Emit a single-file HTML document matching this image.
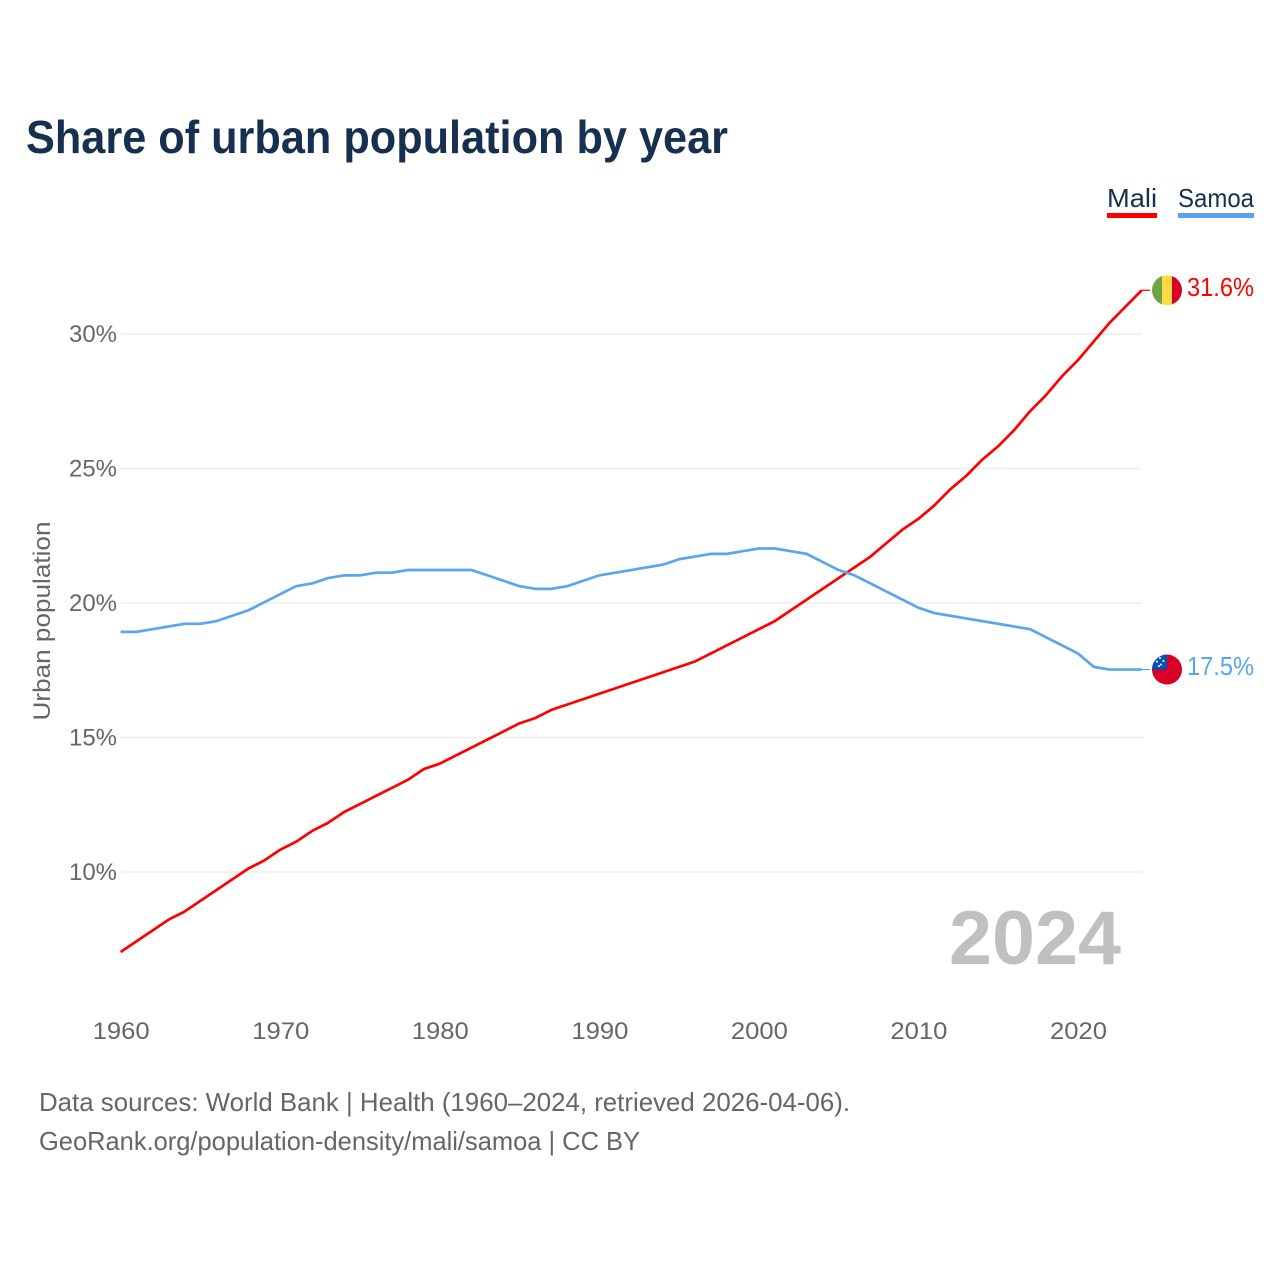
<!DOCTYPE html>
<html lang="en">
<head>
<meta charset="utf-8">
<title>Share of urban population by year</title>
<style>
html,body{margin:0;padding:0;background:#fff;width:1280px;height:1280px;overflow:hidden}
svg{display:block}
text{font-family:"Liberation Sans",sans-serif}
</style>
</head>
<body>
<svg id="chart" width="1280" height="1280" viewBox="0 0 1280 1280" xmlns="http://www.w3.org/2000/svg">
  <defs>
    <clipPath id="mali-clip"><circle id="mali-clip-circle" cx="1167" cy="290" r="15"/></clipPath>
    <clipPath id="samoa-clip"><circle id="samoa-clip-circle" cx="1167" cy="670" r="15"/></clipPath>
  </defs>
  <text x="26" y="153" font-size="46" font-weight="700" fill="#17304f" textLength="702" lengthAdjust="spacingAndGlyphs">Share of urban population by year</text>

  <g>
    <g>
      <text x="1107" y="207" font-size="26" fill="#17304f" textLength="50" lengthAdjust="spacingAndGlyphs">Mali</text>
      <rect x="1107" y="213" width="50" height="5" fill="#ff0000"/>
    </g>
    <g>
      <text x="1178" y="207" font-size="26" fill="#17304f" textLength="76" lengthAdjust="spacingAndGlyphs">Samoa</text>
      <rect x="1178" y="213" width="76" height="5" fill="#5ba5ee"/>
    </g>
  </g>

  <g id="grid"></g>
  <g id="y-ticks"></g>
  <g id="x-ticks"></g>
  <text transform="translate(50,621) rotate(-90)" text-anchor="middle" font-size="24" fill="#666666" textLength="199" lengthAdjust="spacingAndGlyphs">Urban population</text>

  <text x="949" y="964" font-size="76" font-weight="700" fill="#c0c0c0" textLength="172" lengthAdjust="spacingAndGlyphs">2024</text>

  <g id="series"></g>

  <g id="flag-mali" clip-path="url(#mali-clip)"></g>
  <g id="flag-samoa" clip-path="url(#samoa-clip)"></g>
  <g id="end-labels"></g>

  <text x="39" y="1111" font-size="26" fill="#666666" textLength="811" lengthAdjust="spacingAndGlyphs">Data sources: World Bank | Health (1960–2024, retrieved 2026-04-06).</text>
  <text x="39" y="1150" font-size="26" fill="#666666" textLength="601" lengthAdjust="spacingAndGlyphs">GeoRank.org/population-density/mali/samoa | CC BY</text>
</svg>
<script>
const firstYear = 1960;
const maliValues = [7.0,7.4,7.8,8.2,8.5,8.9,9.3,9.7,10.1,10.4,10.8,11.1,11.5,11.8,12.2,12.5,12.8,13.1,13.4,13.8,14.0,14.3,14.6,14.9,15.2,15.5,15.7,16.0,16.2,16.4,16.6,16.8,17.0,17.2,17.4,17.6,17.8,18.1,18.4,18.7,19.0,19.3,19.7,20.1,20.5,20.9,21.3,21.7,22.2,22.7,23.1,23.6,24.2,24.7,25.3,25.8,26.4,27.1,27.7,28.4,29.0,29.7,30.4,31.0,31.6];
const samoaValues = [18.9,18.9,19.0,19.1,19.2,19.2,19.3,19.5,19.7,20.0,20.3,20.6,20.7,20.9,21.0,21.0,21.1,21.1,21.2,21.2,21.2,21.2,21.2,21.0,20.8,20.6,20.5,20.5,20.6,20.8,21.0,21.1,21.2,21.3,21.4,21.6,21.7,21.8,21.8,21.9,22.0,22.0,21.9,21.8,21.5,21.2,21.0,20.7,20.4,20.1,19.8,19.6,19.5,19.4,19.3,19.2,19.1,19.0,18.7,18.4,18.1,17.6,17.5,17.5,17.5];
const yTickValues = [10,15,20,25,30];
const xTickYears = [1960,1970,1980,1990,2000,2010,2020];

const NS = 'http://www.w3.org/2000/svg';
function xScale(year){ return 120.6 + (year - 1960) * 15.955; }
function yScale(v){ return 872 - (v - 10) * 26.9; }
function lineY(v){ return yScale(v) - 0.7; }
function make(tag, attrs, parent){
  const el = document.createElementNS(NS, tag);
  for (const k in attrs) el.setAttribute(k, attrs[k]);
  parent.appendChild(el);
  return el;
}

const grid = document.getElementById('grid');
const yTicks = document.getElementById('y-ticks');
const xTicks = document.getElementById('x-ticks');
const series = document.getElementById('series');
const endLabels = document.getElementById('end-labels');

yTickValues.forEach(function(v){
  const line = make('line', {x1:121, x2:1142, y1:yScale(v), y2:yScale(v), stroke:'#eeeeee', 'stroke-width':1.5}, grid);
  
  
  const t = make('text', {x:117, y:yScale(v) + 8, 'text-anchor':'end', 'font-size':24, fill:'#666666', textLength:48, lengthAdjust:'spacingAndGlyphs'}, yTicks);
  t.textContent = v + '%';
  
  
});

xTickYears.forEach(function(yr){
  const t = make('text', {x:xScale(yr) + 0.6, y:1039, 'text-anchor':'middle', 'font-size':24, fill:'#666666', textLength:57, lengthAdjust:'spacingAndGlyphs'}, xTicks);
  t.textContent = String(yr);
  
  
});

function drawSeries(values, color, name){
  const pts = values.map(function(v, i){ return xScale(firstYear + i).toFixed(2) + ',' + lineY(v).toFixed(2); }).join(' ');
  const line = make('polyline', {points:pts, fill:'none', stroke:color, 'stroke-width':2.7, 'stroke-linejoin':'round'}, series);
  
  
  const lastY = lineY(values[values.length - 1]);
  const lastX = xScale(firstYear + values.length - 1);
  const stub = make('line', {x1:lastX, x2:1150, y1:lastY, y2:lastY, stroke:color, 'stroke-width':1.2}, series);
  
  
  const label = make('text', {x:1187, y:lastY + 5.5, 'font-size':25.5, fill:color, textLength:67, lengthAdjust:'spacingAndGlyphs'}, endLabels);
  label.textContent = values[values.length - 1].toFixed(1) + '%';
  
  
  return lastY;
}

const maliY = drawSeries(maliValues, '#ff0000', 'mali');
const samoaY = drawSeries(samoaValues, '#5ba5ee', 'samoa');

document.getElementById('mali-clip-circle').setAttribute('cy', maliY);
document.getElementById('samoa-clip-circle').setAttribute('cy', samoaY);

const flagMali = document.getElementById('flag-mali');
make('rect', {x:1152, y:maliY - 15, width:10, height:30, fill:'#6da544'}, flagMali);
make('rect', {x:1162, y:maliY - 15, width:10, height:30, fill:'#ffda44'}, flagMali);
make('rect', {x:1172, y:maliY - 15, width:10, height:30, fill:'#d80027'}, flagMali);

const flagSamoa = document.getElementById('flag-samoa');
make('rect', {x:1152, y:samoaY - 15, width:30, height:30, fill:'#d80027'}, flagSamoa);
make('rect', {x:1152, y:samoaY - 15, width:15, height:15, fill:'#0052b4'}, flagSamoa);
[[1160,-11.5],[1163.5,-8.5],[1157,-8],[1161,-5],[1159,-3.5]].forEach(function(s){
  make('circle', {cx:s[0], cy:samoaY + s[1], r:1.1, fill:'#e8eef8'}, flagSamoa);
});
</script>
</body>
</html>
